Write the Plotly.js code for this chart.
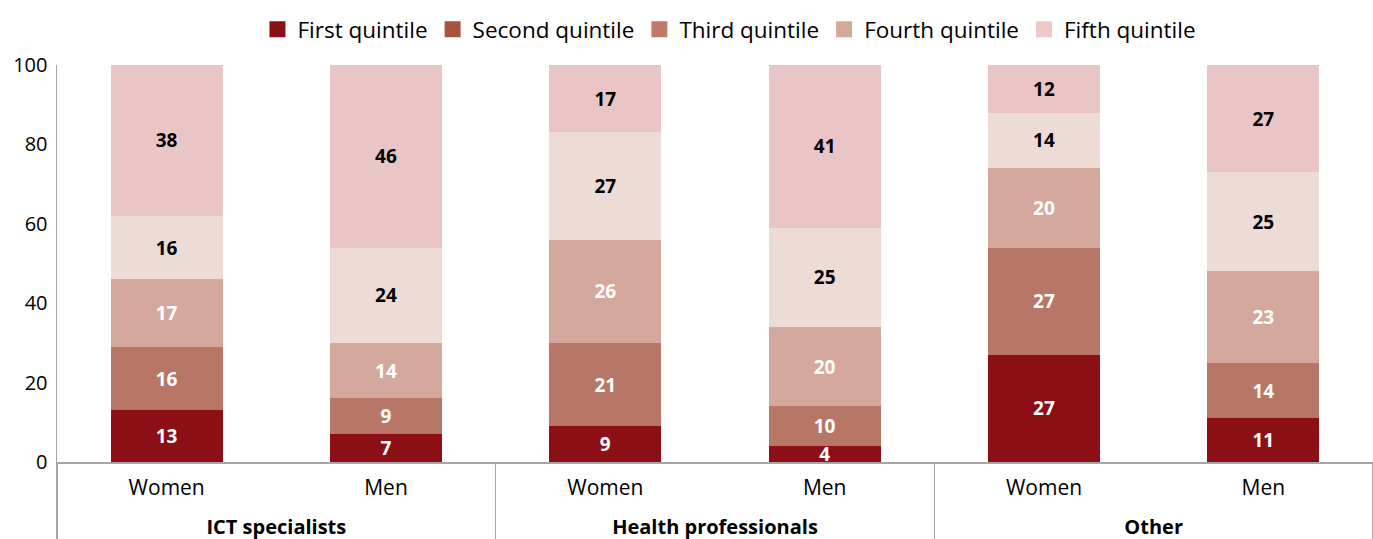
<!DOCTYPE html>
<html><head><meta charset="utf-8">
<script src="https://cdn.plot.ly/plotly-3.0.1.min.js"></script>
<style>body{margin:0;background:#fff}#c{width:1373px;height:539px}</style>
</head><body><div id="c"></div>
<script>
const groups = ["ICT specialists","ICT specialists","Health professionals","Health professionals","Other","Other"];
const sexes = ["Women","Men","Women","Men","Women","Men"];
const seriesNames = ["First quintile","Second quintile","Third quintile","Fourth quintile","Fifth quintile"];
const first  = [13, 7, 9, 4, 27, 11];
const second = [16, 9, 21, 10, 27, 14];
const third  = [17, 14, 26, 20, 20, 23];
const fourth = [16, 24, 27, 25, 14, 25];
const fifth  = [38, 46, 17, 41, 12, 27];
const seriesValues = [first, second, third, fourth, fifth];
const barColors = ["#8B0F14","#B77666","#D4A89C","#EDDCD6","#E9C6C5"];
const legendColors = ["#8B1014","#A9523F","#C07B68","#D6A898","#EDCACA"];
const textColors = ["#ffffff","#ffffff","#ffffff","#000000","#000000"];
const FONT = "Open Sans, sans-serif";

const groupLabels = groups.map(g => "<span style='font-size:20px'><b>" + g + "</b></span>");
const sexLabels = sexes.map(s => "<span style='font-size:21px'>" + s + "</span><br><span style='font-size:2px'>&nbsp;</span>");

const traces = [];
seriesValues.forEach((vals, i) => {
  traces.push({
    type: "bar", x: [groupLabels, sexLabels], y: vals, name: seriesNames[i],
    marker: {color: barColors[i], line: {width: 0}},
    text: vals.map(v => String(v)), textposition: "inside", insidetextanchor: "middle",
    textangle: 0, constraintext: "none", cliponaxis: false,
    textfont: {family: FONT, size: 19, color: textColors[i], weight: 700},
    showlegend: false, hoverinfo: "skip"
  });
});
seriesNames.forEach((n, i) => {
  traces.push({
    type: "scatter", mode: "markers", x: [[null],[null]], y: [null], name: n,
    marker: {symbol: "square", size: 17, color: legendColors[i]}, showlegend: true
  });
});

const layout = {
  width: 1373, height: 539,
  margin: {l: 57, r: 0, t: 65, b: 77},
  barmode: "stack", bargap: 0.49,
  paper_bgcolor: "#fff", plot_bgcolor: "#fff",
  font: {family: FONT, size: 20, color: "#000"},
  showlegend: true,
  legend: {orientation: "h", x: 0.511, xanchor: "center", y: 1.035, yanchor: "bottom",
           font: {family: FONT, size: 22.5, color: "#000"}, itemwidth: 30, tracegroupgap: 0,
           traceorder: "normal"},
  xaxis: {type: "multicategory", showline: true, linecolor: "#A6A6A6", linewidth: 1.5,
          showdividers: true, dividercolor: "#A6A6A6", dividerwidth: 1.5,
          ticks: "", ticklabelstandoff: 10, tickfont: {family: FONT, size: 18, color: "#000"}, showgrid: false,
          zeroline: false},
  yaxis: {range: [0, 100], tickvals: [0,20,40,60,80,100], showline: true,
          linecolor: "#A6A6A6", linewidth: 1.5, showgrid: false, zeroline: false,
          ticks: "", ticklen: 0, ticklabelstandoff: 4, tickfont: {family: FONT, size: 20, color: "#000"}}
};
Plotly.newPlot("c", traces, layout, {displayModeBar: false, staticPlot: true});
</script></body></html>
